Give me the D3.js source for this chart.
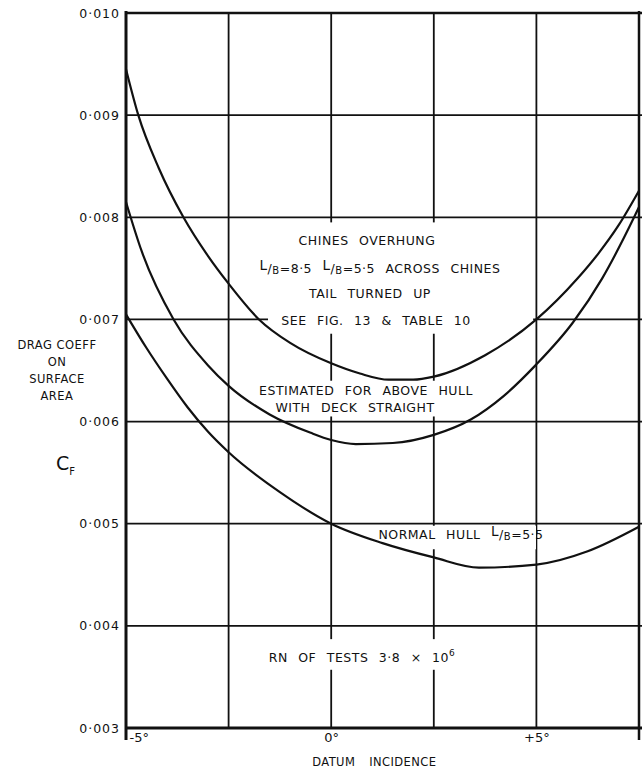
<!DOCTYPE html>
<html>
<head>
<meta charset="utf-8">
<script src="https://cdn.jsdelivr.net/npm/d3@7"></script>
<style>
  html, body { margin: 0; padding: 0; background: #fff; }
  svg { display: block; font-family: "DejaVu Sans", "Liberation Sans", sans-serif; }
  .lbl { fill: #111; }
</style>
</head>
<body>
<svg id="chart" width="642" height="774"></svg>
<script>
// ---- data ----
const xGridValues = [-5, -2.5, 0, 2.5, 5, 7.5];
const yTickValues = [0.003, 0.004, 0.005, 0.006, 0.007, 0.008, 0.009, 0.010];
const xTickValues = [-5, 0, 5];
const xTickLabels = ["-5°", "0°", "+5°"];

// Chines overhung, L/B 8.5 / 5.5 across chines, tail turned up
const anglesChines = [-5, -4.7, -4.2, -3.6, -3, -2.5, -1.76, -1, 0, 0.7, 1.4, 2.0, 2.5, 3.75, 5, 6, 6.5, 7, 7.5];
const cfChines     = [0.00945, 0.0090, 0.00848, 0.0080, 0.00762, 0.00735, 0.0070, 0.00677, 0.00657, 0.00647, 0.00641, 0.00641, 0.00644, 0.00665, 0.0070, 0.0074, 0.00764, 0.00792, 0.00826];

// Estimated for above hull with deck straight
const anglesDeck = [-5, -4.62, -3.84, -3, -2.5, -1.5, -0.5, 0, 0.6, 1.5, 2.5, 3.4, 4.2, 5, 5.89, 6.6, 7.38, 7.5];
const cfDeck     = [0.00815, 0.00767, 0.0070, 0.00655, 0.00635, 0.00607, 0.00589, 0.00582, 0.00578, 0.00579, 0.00587, 0.00602, 0.00625, 0.00656, 0.00697, 0.0074, 0.0080, 0.0081];

// Normal hull L/B = 5.5
const anglesNormal = [-5, -4.5, -4, -3.5, -3, -2.5, -1.25, 0, 1.25, 2.5, 3.6, 5, 6.25, 7.5];
const cfNormal     = [0.00705, 0.00672, 0.00642, 0.00614, 0.0059, 0.0057, 0.00531, 0.0050, 0.00481, 0.00467, 0.00457, 0.0046, 0.00473, 0.00497];

// ---- chart ----
const svg = d3.select("#chart");
const pLeft = 126, pRight = 639, pTop = 13, pBottom = 728;
const x = d3.scaleLinear().domain([-5, 7.5]).range([pLeft, pRight]);
const y = d3.scaleLinear().domain([0.003, 0.010]).range([pBottom, pTop]);

svg.append("rect").attr("width", 642).attr("height", 774).attr("fill", "#fff");

// grid lines
const grid = svg.append("g").attr("stroke", "#111").attr("stroke-width", 1.8);
grid.selectAll("line.v").data(xGridValues).join("line").attr("class", "v")
  .attr("x1", d => x(d)).attr("x2", d => x(d))
  .attr("y1", pTop).attr("y2", pBottom);
grid.selectAll("line.h").data(yTickValues).join("line").attr("class", "h")
  .attr("x1", pLeft).attr("x2", 642)
  .attr("y1", d => y(d)).attr("y2", d => y(d));

// frame
svg.append("line").attr("x1", pLeft).attr("x2", pLeft).attr("y1", pTop - 2).attr("y2", 740)
  .attr("stroke", "#111").attr("stroke-width", 3);
svg.append("line").attr("x1", pRight).attr("x2", pRight).attr("y1", pTop - 2).attr("y2", 740)
  .attr("stroke", "#111").attr("stroke-width", 2.5);
svg.append("line").attr("x1", pLeft).attr("x2", 642).attr("y1", pBottom).attr("y2", pBottom)
  .attr("stroke", "#111").attr("stroke-width", 3);
svg.append("line").attr("x1", pLeft).attr("x2", 642).attr("y1", pTop).attr("y2", pTop)
  .attr("stroke", "#111").attr("stroke-width", 2.5);

// white masks where the lettering interrupts the grid (data units)
const masks = [
  {a: -1.54, b: 4.92, c: 0.00795, d: 0.00686},
  {a: -1.98, b: 3.75, c: 0.00640, d: 0.00605},
  {a: 0.99,  b: 4.99, c: 0.00498, d: 0.00475},
  {a: -1.86, b: 3.38, c: 0.00387, d: 0.00357}
];
svg.append("g").selectAll("rect").data(masks).join("rect")
  .attr("x", d => x(d.a)).attr("width", d => x(d.b) - x(d.a))
  .attr("y", d => y(d.c)).attr("height", d => y(d.d) - y(d.c))
  .attr("fill", "#fff");

// curves
const line = d3.line().x(d => x(d[0])).y(d => y(d[1])).curve(d3.curveMonotoneX);
const series = [
  d3.zip(anglesChines, cfChines),
  d3.zip(anglesDeck, cfDeck),
  d3.zip(anglesNormal, cfNormal)
];
svg.append("g").selectAll("path").data(series).join("path")
  .attr("d", line).attr("fill", "none").attr("stroke", "#111").attr("stroke-width", 2.2);

// y axis labels
const yAxis = d3.axisLeft(y).tickValues(yTickValues).tickSize(0).tickPadding(0)
  .tickFormat(d => "0·" + String(Math.round(d * 1000)).padStart(3, "0"));
const gy = svg.append("g").attr("transform", `translate(${pLeft - 6},0)`).call(yAxis);
gy.select(".domain").remove();
gy.selectAll("text").attr("font-size", 12.5).attr("font-family", "DejaVu Sans")
  .attr("letter-spacing", 1).attr("fill", "#111");

// x axis labels
const xAxis = d3.axisBottom(x).tickValues(xTickValues).tickSize(0).tickPadding(0)
  .tickFormat((d, i) => xTickLabels[i]);
const gx = svg.append("g").attr("transform", `translate(0,${pBottom + 5})`).call(xAxis);
gx.select(".domain").remove();
gx.selectAll("text").attr("font-size", 13).attr("font-family", "DejaVu Sans").attr("fill", "#111");
gx.selectAll(".tick").filter(d => d === -5).select("text").attr("text-anchor", "start").attr("dx", 3);

// axis titles
svg.append("text").attr("class", "lbl").attr("x", x(1.05)).attr("y", 766)
  .attr("text-anchor", "middle").attr("font-size", 11.5).attr("word-spacing", 10)
  .attr("letter-spacing", 0.4).text("DATUM INCIDENCE");
const leftTitle = ["DRAG COEFF", "ON", "SURFACE", "AREA"];
svg.append("g").selectAll("text").data(leftTitle).join("text")
  .attr("class", "lbl").attr("x", 57).attr("y", (d, i) => 349 + i * 17)
  .attr("text-anchor", "middle").attr("font-size", 11.5).attr("letter-spacing", 0.5)
  .text(d => d);
const cf = svg.append("text").attr("x", 56).attr("y", 470).attr("fill", "#111")
  .attr("font-size", 19);
cf.append("tspan").text("C");
cf.append("tspan").attr("font-size", 10).attr("dy", 5).text("F");

// annotations
function lb(t, value) {
  t.append("tspan").attr("font-size", 13.5).attr("dy", -3).text("L");
  t.append("tspan").attr("font-size", 12.5).attr("dy", 3).text("/");
  t.append("tspan").attr("font-size", 10).attr("dy", 1).text("B");
  t.append("tspan").attr("dy", -1).text(value);
}
const ann = svg.append("g").attr("class", "lbl").attr("font-size", 12.5)
  .attr("word-spacing", 6).attr("letter-spacing", 0.5)
  .attr("text-anchor", "middle");
ann.append("text").attr("x", 367).attr("y", 245).text("CHINES OVERHUNG");
const t2 = ann.append("text").attr("x", 380).attr("y", 273);
lb(t2, "=8·5 ");
lb(t2, "=5·5 ACROSS CHINES");
ann.append("text").attr("x", 370).attr("y", 298).text("TAIL TURNED UP");
ann.append("text").attr("x", 376).attr("y", 325).text("SEE FIG. 13 & TABLE 10");
ann.append("text").attr("x", 366).attr("y", 395).text("ESTIMATED FOR ABOVE HULL");
ann.append("text").attr("x", 355).attr("y", 412).text("WITH DECK STRAIGHT");
const t3 = ann.append("text").attr("x", 461).attr("y", 539);
t3.append("tspan").text("NORMAL HULL ");
lb(t3, "=5·5");
const t4 = ann.append("text").attr("x", 362).attr("y", 662);
t4.append("tspan").text("RN OF TESTS  3·8 × 10");
t4.append("tspan").attr("font-size", 9).attr("dy", -6).text("6");
</script>
</body>
</html>
